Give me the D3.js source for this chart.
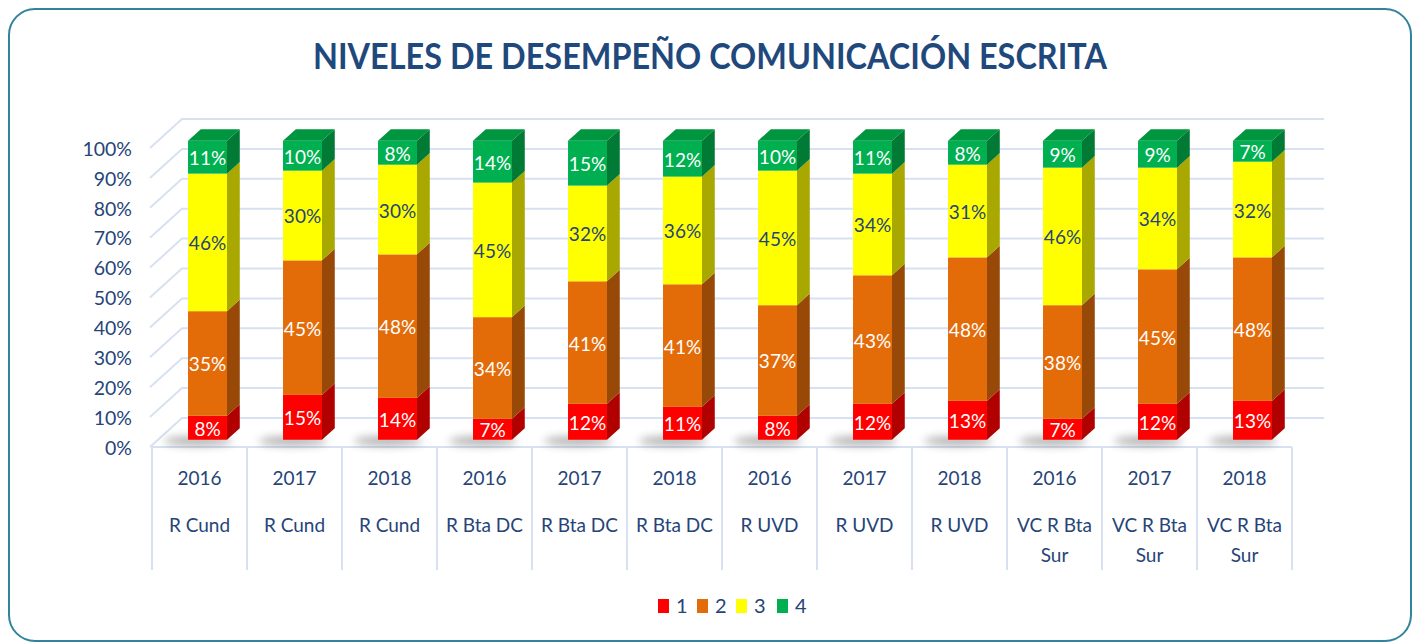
<!DOCTYPE html>
<html>
<head>
<meta charset="utf-8">
<title>Niveles de desempeño</title>
<script src="https://d3js.org/d3.v7.min.js"></script>
<style>
  body { margin: 0; background: #fff; }
  text { font-family: Lato, "Open Sans", sans-serif; fill: #264478; }
</style>
</head>
<body>
<svg id="chart" width="1418" height="644"></svg>
<script>
// data
const years   = ["2016","2017","2018","2016","2017","2018","2016","2017","2018","2016","2017","2018"];
const regions = ["R Cund","R Cund","R Cund","R Bta DC","R Bta DC","R Bta DC","R UVD","R UVD","R UVD","VC R Bta Sur","VC R Bta Sur","VC R Bta Sur"];
const nivel1 = [8, 15, 14, 7, 12, 11, 8, 12, 13, 7, 12, 13];
const nivel2 = [35, 45, 48, 34, 41, 41, 37, 43, 48, 38, 45, 48];
const nivel3 = [46, 30, 30, 45, 32, 36, 45, 34, 31, 46, 34, 32];
const nivel4 = [11, 10, 8, 14, 15, 12, 10, 11, 8, 9, 9, 7];
const seriesNames = ["1","2","3","4"];
const yTicks = [0,10,20,30,40,50,60,70,80,90,100];

const front = ["#FF0000","#E36C09","#FFFF00","#00B050"];
const side  = ["#B00000","#984807","#A8A800","#007A34"];
const topC  = "#00963F";
const labelC = ["#fff","#fff","#264478","#fff"];

const svg = d3.select("#chart");

// frame
svg.append("rect").attr("x", 9).attr("y", 9).attr("width", 1402).attr("height", 632)
  .attr("rx", 26).attr("fill", "#fff").attr("stroke", "#31849B").attr("stroke-width", 2);

svg.append("text").attr("x", 710).attr("y", 69).attr("text-anchor", "middle")
  .attr("font-size", 37).attr("font-weight", 700).style("fill", "#1F497D")
  .attr("textLength", 794).attr("lengthAdjust", "spacingAndGlyphs")
  .text("NIVELES DE DESEMPEÑO COMUNICACIÓN ESCRITA");

// 3d-ish projection: depth 0 = front plane, 1 = back wall
const DX = 32, DY = -29;
const keys = d3.range(12);
const cat = d3.scaleBand().domain(keys).range([152, 1292]);
const xb = d3.scaleBand().domain(keys).range([152, 1292]).paddingInner(0.59).paddingOuter(0.295);
const y = d3.scaleLinear().domain([0, 100]).range([447, 148]);
const P = (px, py, d) => [px + DX * d, py + DY * d];

const grid = svg.append("g").attr("stroke", "#D8E1F1").attr("stroke-width", 2).attr("fill", "none");
yTicks.forEach(t => {
  const a = P(150, y(t), 0), b = P(150, y(t), 1), c = P(1292, y(t), 1);
  grid.append("path").attr("d", d3.line()([a, b, c]));
});
// floor front edge and category separators
grid.append("line").attr("x1", 152).attr("x2", 1292).attr("y1", y(0)).attr("y2", y(0));
keys.concat([12]).forEach(i => {
  const xx = i < 12 ? cat(i) : cat.range()[1];
  grid.append("line").attr("x1", xx).attr("x2", xx).attr("y1", y(0)).attr("y2", 570);
});

// y axis
const yAxis = svg.append("g").attr("transform", "translate(138,1)")
  .call(d3.axisLeft(y).tickValues(yTicks).tickSize(0).tickPadding(6).tickFormat(d => d + "%"));
yAxis.select(".domain").remove();
yAxis.selectAll("text").attr("font-size", 19.5).style("font-family", "Lato, sans-serif").style("fill", "#264478");

// x labels
const xl = svg.append("g");
keys.forEach(i => {
  const cx = cat(i) + cat.bandwidth() / 2;
  xl.append("text").attr("x", cx).attr("y", 485).attr("text-anchor", "middle").attr("font-size", 19).text(years[i]);
  const parts = regions[i] === "VC R Bta Sur" ? ["VC R Bta", "Sur"] : [regions[i]];
  parts.forEach((p, j) => xl.append("text").attr("x", cx).attr("y", 532 + j * 30)
    .attr("text-anchor", "middle").attr("font-size", 19).text(p));
});

// shadows
const defs = svg.append("defs");
defs.append("filter").attr("id", "blur").attr("x", "-50%").attr("y", "-200%").attr("width", "200%").attr("height", "500%")
  .append("feGaussianBlur").attr("stdDeviation", 4);
keys.forEach(i => {
  const bx = xb(i) + DX * 0.25;
  svg.append("ellipse").attr("cx", bx + 10).attr("cy", y(0) - 6).attr("rx", 34).attr("ry", 5)
    .attr("fill", "#555").attr("opacity", 0.45).attr("filter", "url(#blur)");
});

// bars
const stack = d3.stack().keys([0,1,2,3]).value((d, k) => [nivel1, nivel2, nivel3, nivel4][k][d]);
const layers = stack(keys);
const d0 = 0.25, d1 = 0.65, bw = xb.bandwidth();
const bars = svg.append("g");
layers.forEach((layer, k) => {
  layer.forEach((seg, i) => {
    const x0 = xb(i), yb = y(seg[0]), yt = y(seg[1]);
    const fl = P(x0, yt, d0);
    bars.append("rect").attr("x", fl[0]).attr("y", fl[1]).attr("width", bw).attr("height", yb - yt).attr("fill", front[k]);
    bars.append("path").attr("fill", side[k]).attr("d", d3.line()([
      P(x0 + bw, yt, d0), P(x0 + bw, yt, d1), P(x0 + bw, yb, d1), P(x0 + bw, yb, d0)]) + "Z");
    if (k === 3) {
      bars.append("path").attr("fill", topC).attr("d", d3.line()([
        P(x0, yt, d0), P(x0, yt, d1), P(x0 + bw, yt, d1), P(x0 + bw, yt, d0)]) + "Z");
    }
    const v = seg[1] - seg[0];
    bars.append("text").attr("x", fl[0] + bw / 2).attr("y", (yt + yb) / 2 + DY * d0)
      .attr("dy", "0.42em").attr("text-anchor", "middle").attr("font-size", 19)
      .style("fill", labelC[k]).text(v + "%");
  });
});

// legend
const lg = svg.append("g");
const lx = [658, 697, 736, 777];
seriesNames.forEach((s, k) => {
  lg.append("rect").attr("x", lx[k]).attr("y", 599).attr("width", 11).attr("height", 14).attr("fill", front[k]);
  lg.append("text").attr("x", lx[k] + 18).attr("y", 613).attr("font-size", 20).text(s);
});
</script>
</body>
</html>
